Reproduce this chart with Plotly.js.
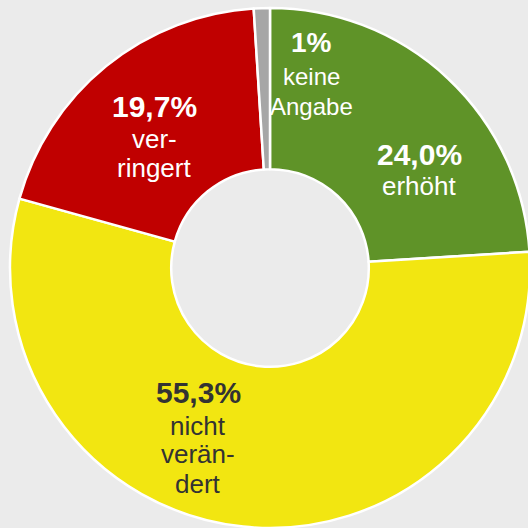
<!DOCTYPE html>
<html>
<head>
<meta charset="utf-8">
<script src="https://cdn.plot.ly/plotly-3.0.1.min.js"></script>
<style>
  html, body { margin: 0; padding: 0; background: #ebebeb; overflow: hidden; width: 528px; height: 528px; }
  #chart { position: absolute; left: 0; top: 0; width: 540px; height: 540px; }
</style>
</head>
<body>
<div id="chart"></div>
<script>
// Data
const categories = ["erhöht", "nicht verändert", "verringert", "keine Angabe"];
const values = [24.0, 55.3, 19.7, 1];
const percentLabels = ["24,0%", "55,3%", "19,7%", "1%"];
const labelLines = [["erhöht"], ["nicht", "verän-", "dert"], ["ver-", "ringert"], ["keine", "Angabe"]];

// Styles
const colors = ["#5f9328", "#f2e611", "#c00000", "#a6a6a6"];
const textColors = ["#ffffff", "#333333", "#ffffff", "#ffffff"];
const W = 540, H = 540;
// label placement (pixel centers of each text line) - layout only
const labelX = [419, 198, 154, 312];
const labelY = [[154.5, 186], [392.5, 426, 454, 484], [106.5, 139, 168], [43, 76.6, 106.6]];
const boldSize = [30, 30, 30, 28];
const normSize = [26, 26, 26, 24];

const font = "Liberation Sans, Arial, sans-serif";
const annotations = [];
categories.forEach((c, i) => {
  const lines = ["<b>" + percentLabels[i] + "</b>"].concat(labelLines[i]);
  lines.forEach((t, j) => {
    annotations.push({
      xref: "paper", yref: "paper",
      x: labelX[i] / W, y: 1 - labelY[i][j] / H,
      xanchor: "center", yanchor: "middle",
      text: t, showarrow: false,
      font: { family: font, size: j === 0 ? boldSize[i] : normSize[i], color: textColors[i] }
    });
  });
});

const trace = {
  type: "pie",
  labels: categories,
  values: values,
  sort: false,
  direction: "clockwise",
  rotation: 0,
  hole: 0.38,
  textinfo: "none",
  hoverinfo: "label+percent",
  marker: { colors: colors, line: { color: "#ffffff", width: 2.5 } },
  domain: { x: [10 / W, 530 / W], y: [(H - 528) / H, (H - 8) / H] }
};

const layout = {
  width: W, height: H,
  margin: { l: 0, r: 0, t: 0, b: 0 },
  paper_bgcolor: "#ebebeb",
  plot_bgcolor: "#ebebeb",
  showlegend: false,
  annotations: annotations
};

Plotly.newPlot("chart", [trace], layout, { displayModeBar: false, staticPlot: true });
</script>
</body>
</html>
